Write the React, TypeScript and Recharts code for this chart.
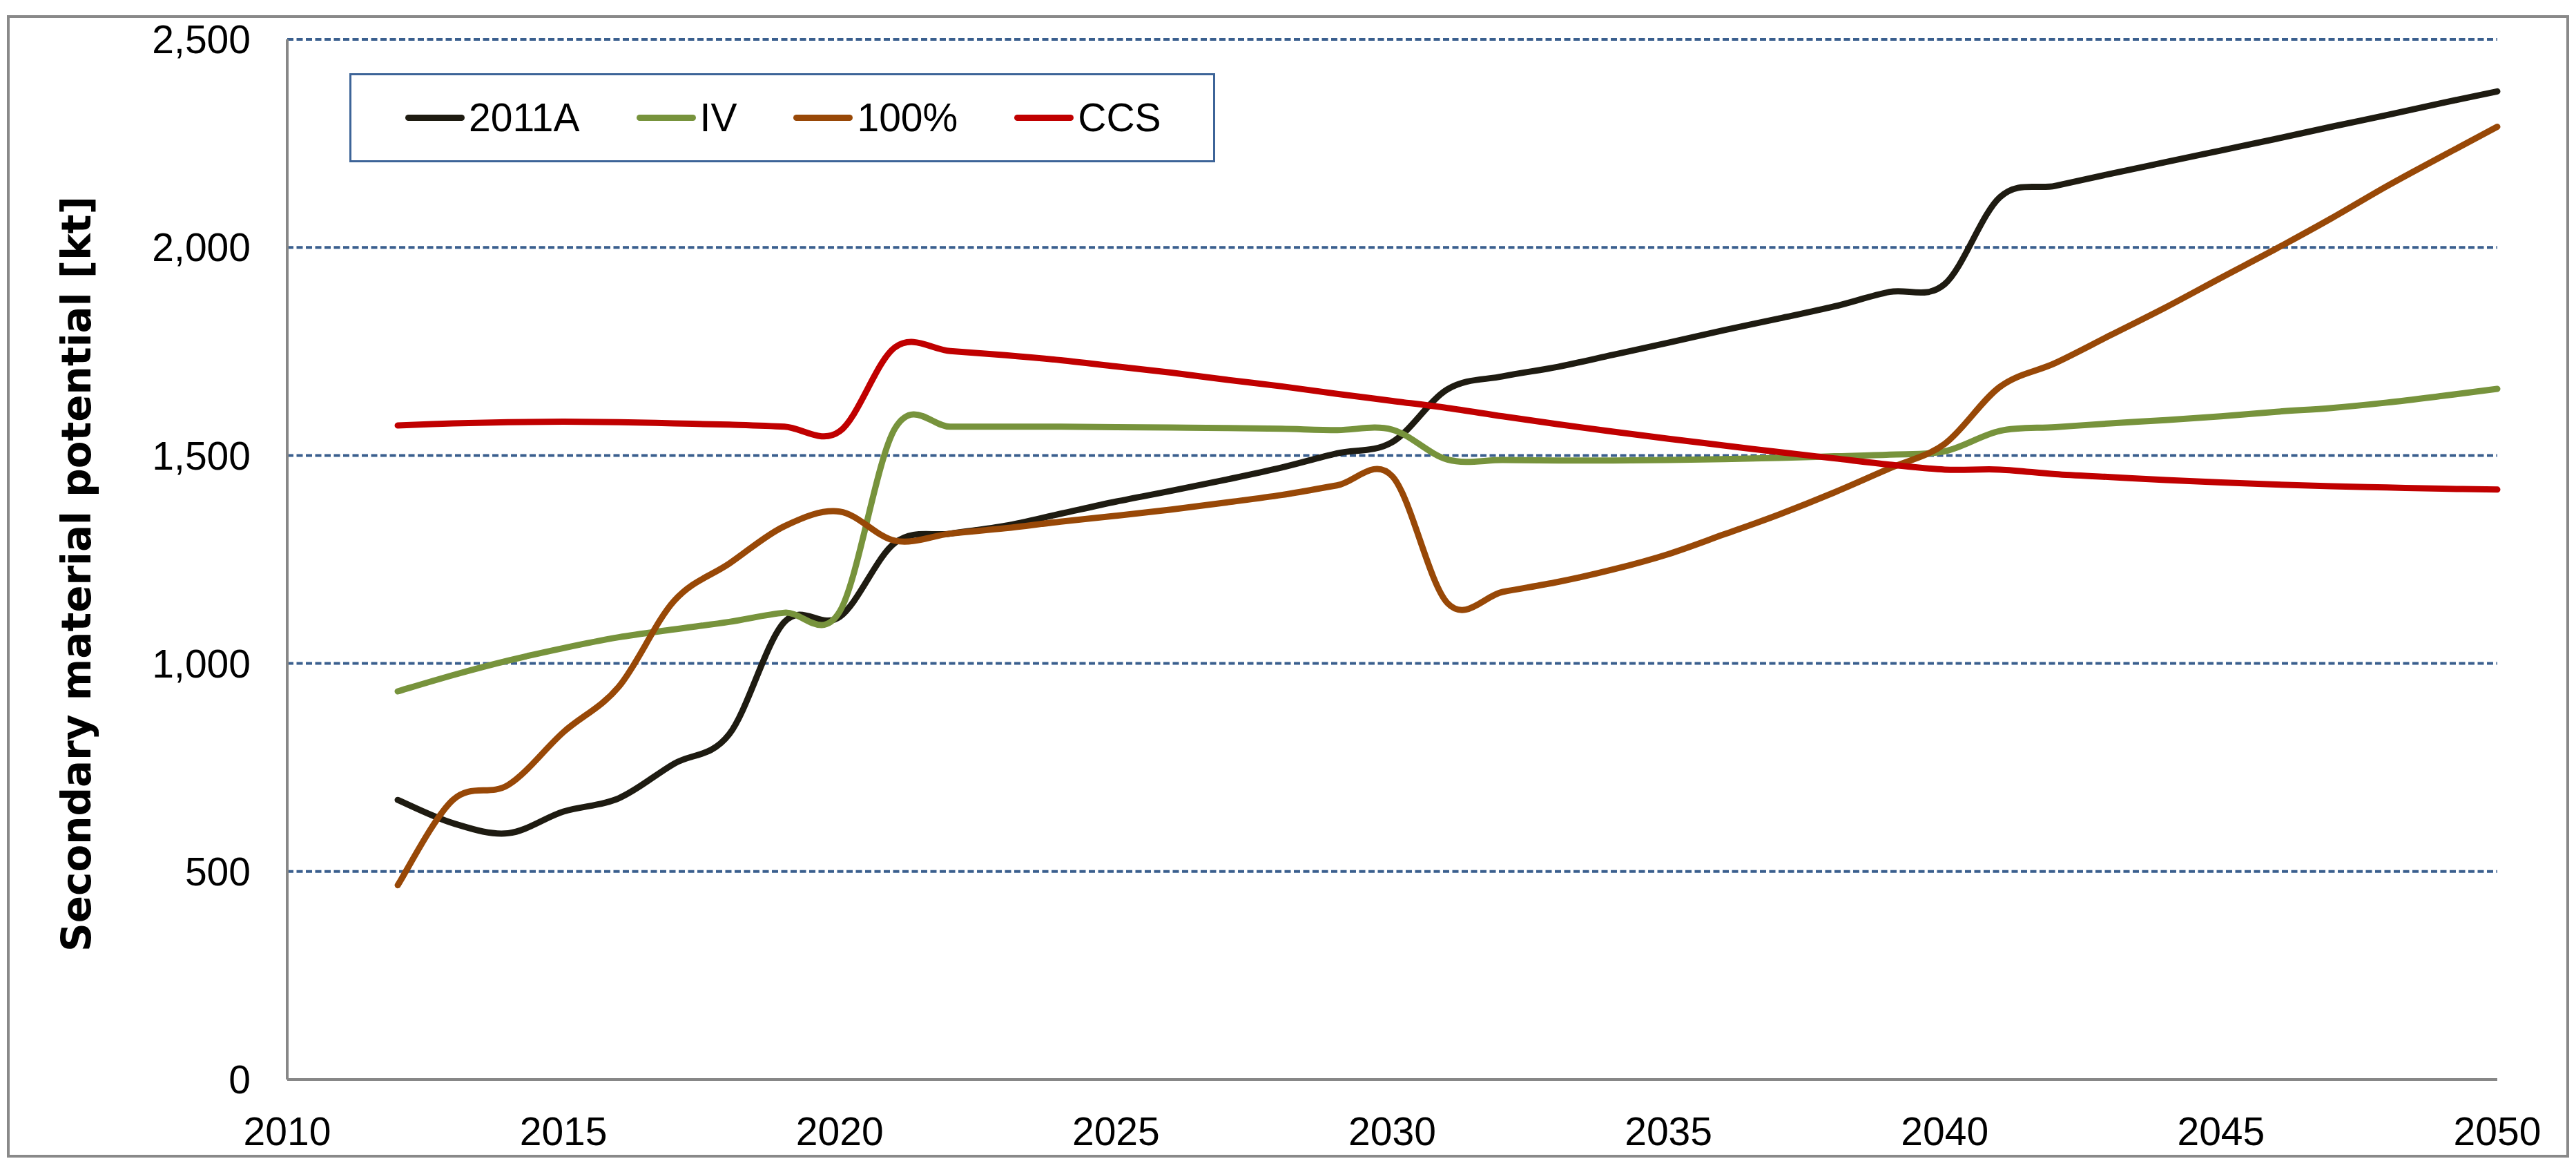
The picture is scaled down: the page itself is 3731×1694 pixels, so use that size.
import { LineChart, Line, XAxis, YAxis, CartesianGrid, Legend, Label } from 'recharts';

// yearly values, kt
const years = [
  2012, 2013, 2014, 2015, 2016, 2017, 2018, 2019, 2020, 2021, 2022, 2023, 2024,
  2025, 2026, 2027, 2028, 2029, 2030, 2031, 2032, 2033, 2034, 2035, 2036, 2037,
  2038, 2039, 2040, 2041, 2042, 2043, 2044, 2045, 2046, 2047, 2048, 2049, 2050,
];

const scenario2011A = [
  672, 616, 592, 644, 676, 759, 830, 1100, 1112, 1290, 1312, 1331, 1360,
  1389, 1415, 1442, 1471, 1505, 1532, 1659, 1690, 1713, 1742, 1771, 1801, 1829,
  1858, 1893, 1912, 2121, 2148, 2177, 2205, 2233, 2261, 2290, 2318, 2347, 2375,
];

const scenarioIV = [
  933, 972, 1007, 1037, 1063, 1082, 1100, 1122, 1125, 1565, 1569, 1569, 1569,
  1568, 1567, 1566, 1564, 1561, 1562, 1490, 1489, 1488, 1488, 1489, 1491, 1494,
  1498, 1502, 1510, 1559, 1568, 1577, 1585, 1594, 1605, 1614, 1627, 1643, 1660,
];

const scenario100 = [
  467, 672, 708, 835, 944, 1150, 1240, 1330, 1365, 1295, 1312, 1325, 1341,
  1355, 1370, 1387, 1405, 1428, 1450, 1145, 1172, 1196, 1226, 1263, 1310, 1358,
  1411, 1469, 1528, 1665, 1722, 1789, 1856, 1927, 1997, 2070, 2147, 2219, 2290,
];

const scenarioCCS = [
  1572, 1577, 1580, 1581, 1580, 1577, 1574, 1569, 1558, 1760, 1751, 1741, 1729,
  1714, 1699, 1682, 1666, 1648, 1631, 1614, 1594, 1575, 1557, 1540, 1524, 1508,
  1493, 1478, 1466, 1466, 1455, 1448, 1441, 1435, 1430, 1426, 1423, 1420, 1418,
];

const xTicks = [2010, 2015, 2020, 2025, 2030, 2035, 2040, 2045, 2050];
const yTicks = [0, 500, 1000, 1500, 2000, 2500];

const series = [
  { key: 's2011A', name: '2011A', color: '#1E1B11', values: scenario2011A },
  { key: 'sIV', name: 'IV', color: '#77933C', values: scenarioIV },
  { key: 's100', name: '100%', color: '#984807', values: scenario100 },
  { key: 'sCCS', name: 'CCS', color: '#C00000', values: scenarioCCS },
];

const data = years.map((year, i) => {
  const row: Record<string, number> = { year };
  series.forEach((s) => {
    row[s.key] = s.values[i];
  });
  return row;
});

const FONT = '"Liberation Sans", Arial, sans-serif';

// Excel-style smoothed line (Catmull-Rom through every point)
function excelSmooth(context: any) {
  let pts: number[][] = [];
  return {
    areaStart() {},
    areaEnd() {},
    lineStart() {
      pts = [];
    },
    point(x: number, y: number) {
      pts.push([+x, +y]);
    },
    lineEnd() {
      if (!pts.length) return;
      context.moveTo(pts[0][0], pts[0][1]);
      for (let i = 0; i < pts.length - 1; i++) {
        const p0 = pts[Math.max(0, i - 1)];
        const p1 = pts[i];
        const p2 = pts[i + 1];
        const p3 = pts[Math.min(pts.length - 1, i + 2)];
        context.bezierCurveTo(
          p1[0] + (p2[0] - p0[0]) / 6,
          p1[1] + (p2[1] - p0[1]) / 6,
          p2[0] - (p3[0] - p1[0]) / 6,
          p2[1] - (p3[1] - p1[1]) / 6,
          p2[0],
          p2[1],
        );
      }
    },
  };
}

function LegendBox() {
  return (
    <div
      style={{
        display: 'flex',
        alignItems: 'center',
        height: '100%',
        paddingLeft: 78,
        gap: 82,
        fontFamily: FONT,
        fontSize: 57,
        color: '#000',
      }}
    >
      {series.map((s) => (
        <div key={s.key} style={{ display: 'flex', alignItems: 'center' }}>
          <span
            style={{
              display: 'inline-block',
              width: 86,
              height: 9,
              borderRadius: 5,
              background: s.color,
              marginRight: 6,
            }}
          />
          <span style={{ lineHeight: 1 }}>{s.name}</span>
        </div>
      ))}
    </div>
  );
}

function YTitle() {
  return (
    <text
      x={131}
      y={831}
      transform="rotate(-90, 131, 831)"
      textAnchor="middle"
      fontFamily='"DejaVu Sans", Verdana, sans-serif'
      fontWeight="bold"
      fontSize={58}
      fill="#000"
    >
      Secondary material potential [kt]
    </text>
  );
}

export default function App() {
  return (
    <div style={{ position: 'absolute', left: 0, top: 0, width: 3731, height: 1694, background: '#fff' }}>
      <div
        style={{
          position: 'absolute',
          left: 10,
          top: 22,
          width: 3711,
          height: 1654,
          border: '4px solid #898989',
          boxSizing: 'border-box',
        }}
      />
      <div style={{ position: 'absolute', left: 0, top: 0 }}>
        <LineChart width={3731} height={1694} data={data} margin={{ top: 57, right: 114, bottom: 0, left: 216 }}>
          <CartesianGrid vertical={false} stroke="#3A5F8E" strokeWidth={4} strokeDasharray="9 4.5" />
          <XAxis
            dataKey="year"
            type="number"
            domain={[2010, 2050]}
            ticks={xTicks}
            interval={0}
            height={131}
            tickSize={0}
            tickMargin={55}
            tickLine={false}
            axisLine={{ stroke: '#878787', strokeWidth: 4 }}
            tick={{ fill: '#000', fontSize: 57, fontFamily: FONT }}
          />
          <YAxis
            type="number"
            domain={[0, 2500]}
            ticks={yTicks}
            interval={0}
            width={200}
            tickSize={0}
            tickMargin={53}
            tickLine={false}
            axisLine={{ stroke: '#878787', strokeWidth: 4 }}
            tick={{ fill: '#000', fontSize: 57, fontFamily: FONT }}
            tickFormatter={(v: number) => v.toLocaleString('en-US')}
          >
            <Label content={() => <YTitle />} />
          </YAxis>
          <Legend
            layout="horizontal"
            verticalAlign="middle"
            align="center"
            content={() => <LegendBox />}
            wrapperStyle={{
              left: 506,
              top: 106,
              width: 1254,
              height: 129,
              border: '3px solid #3D6498',
              boxSizing: 'border-box',
              background: '#fff',
            }}
          />
          {series.map((s) => (
            <Line
              key={s.key}
              dataKey={s.key}
              name={s.name}
              type={excelSmooth as any}
              stroke={s.color}
              strokeWidth={9}
              strokeLinecap="round"
              dot={false}
              activeDot={false}
              isAnimationActive={false}
            />
          ))}
        </LineChart>
      </div>
    </div>
  );
}
